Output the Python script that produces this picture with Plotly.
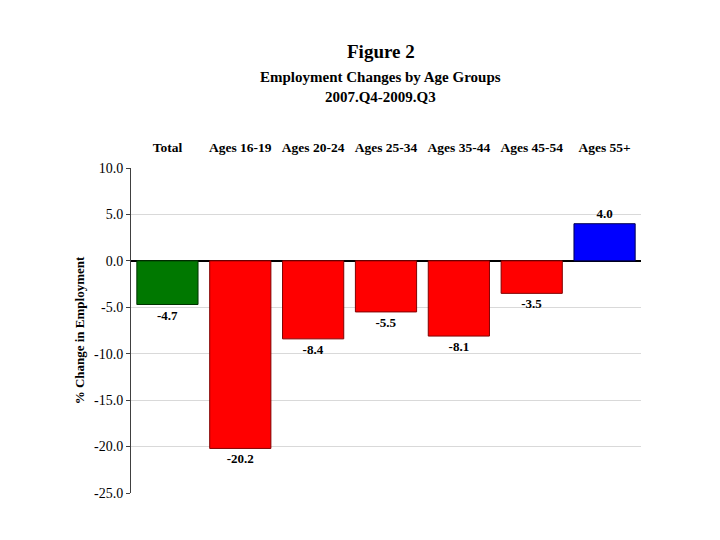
import plotly.graph_objects as go

categories = ["Total", "Ages 16-19", "Ages 20-24", "Ages 25-34", "Ages 35-44", "Ages 45-54", "Ages 55+"]
values = [-4.7, -20.2, -8.4, -5.5, -8.1, -3.5, 4.0]
colors = ["#007800", "#ff0000", "#ff0000", "#ff0000", "#ff0000", "#ff0000", "#0000ff"]
outline = ["#003300", "#800000", "#800000", "#800000", "#800000", "#800000", "#000050"]
tick_vals = [10, 5, 0, -5, -10, -15, -20, -25]
tick_text = ["10.0", "5.0", "0.0", "-5.0", "-10.0", "-15.0", "-20.0", "-25.0"]

serif = "Liberation Serif, Times New Roman, serif"

fig = go.Figure(go.Bar(
    x=categories, y=values,
    marker=dict(color=colors, line=dict(color=outline, width=1)),
    text=[f"<b>{v:.1f}</b>" for v in values],
    textposition="outside",
    textfont=dict(family=serif, size=13, color="black"),
    cliponaxis=False,
))

fig.update_layout(
    width=720, height=540,
    paper_bgcolor="white", plot_bgcolor="white",
    margin=dict(l=123, r=87, t=160, b=55),
    bargap=0.16,
    showlegend=False,
    font=dict(family=serif, color="black"),
)
fig.add_annotation(text="<b>Figure 2</b>", xref="paper", yref="paper", x=(380 - 130) / 510, y=1 + (167 - 50) / 325,
                   showarrow=False, font=dict(family=serif, size=19), xanchor="center", yanchor="middle")
fig.add_annotation(text="<b>Employment Changes by Age Groups</b><br><b>2007.Q4-2009.Q3</b>", xref="paper", yref="paper",
                   x=(379 - 130) / 510, y=1 + (167 - 86) / 325,
                   showarrow=False, font=dict(family=serif, size=15), xanchor="center", yanchor="middle")

fig.update_xaxes(side="top", showline=False, ticks="", showgrid=False,
                 tickfont=dict(family=serif, size=13.5, color="black"),
                 tickprefix="<b>", ticksuffix="</b>", ticklabelstandoff=12)
fig.update_yaxes(range=[-25, 10], tickvals=tick_vals, ticktext=tick_text,
                 showgrid=True, gridcolor="#d9d9d9", gridwidth=1,
                 zeroline=True, zerolinecolor="black", zerolinewidth=2,
                 showline=True, linecolor="#404040", linewidth=1,
                 ticks="outside", ticklen=4, tickcolor="#404040",
                 tickfont=dict(family=serif, size=14, color="black"),
                 title=dict(text="<b>% Change in Employment</b>", font=dict(family=serif, size=13), standoff=6))

fig.write_html("out.html")
